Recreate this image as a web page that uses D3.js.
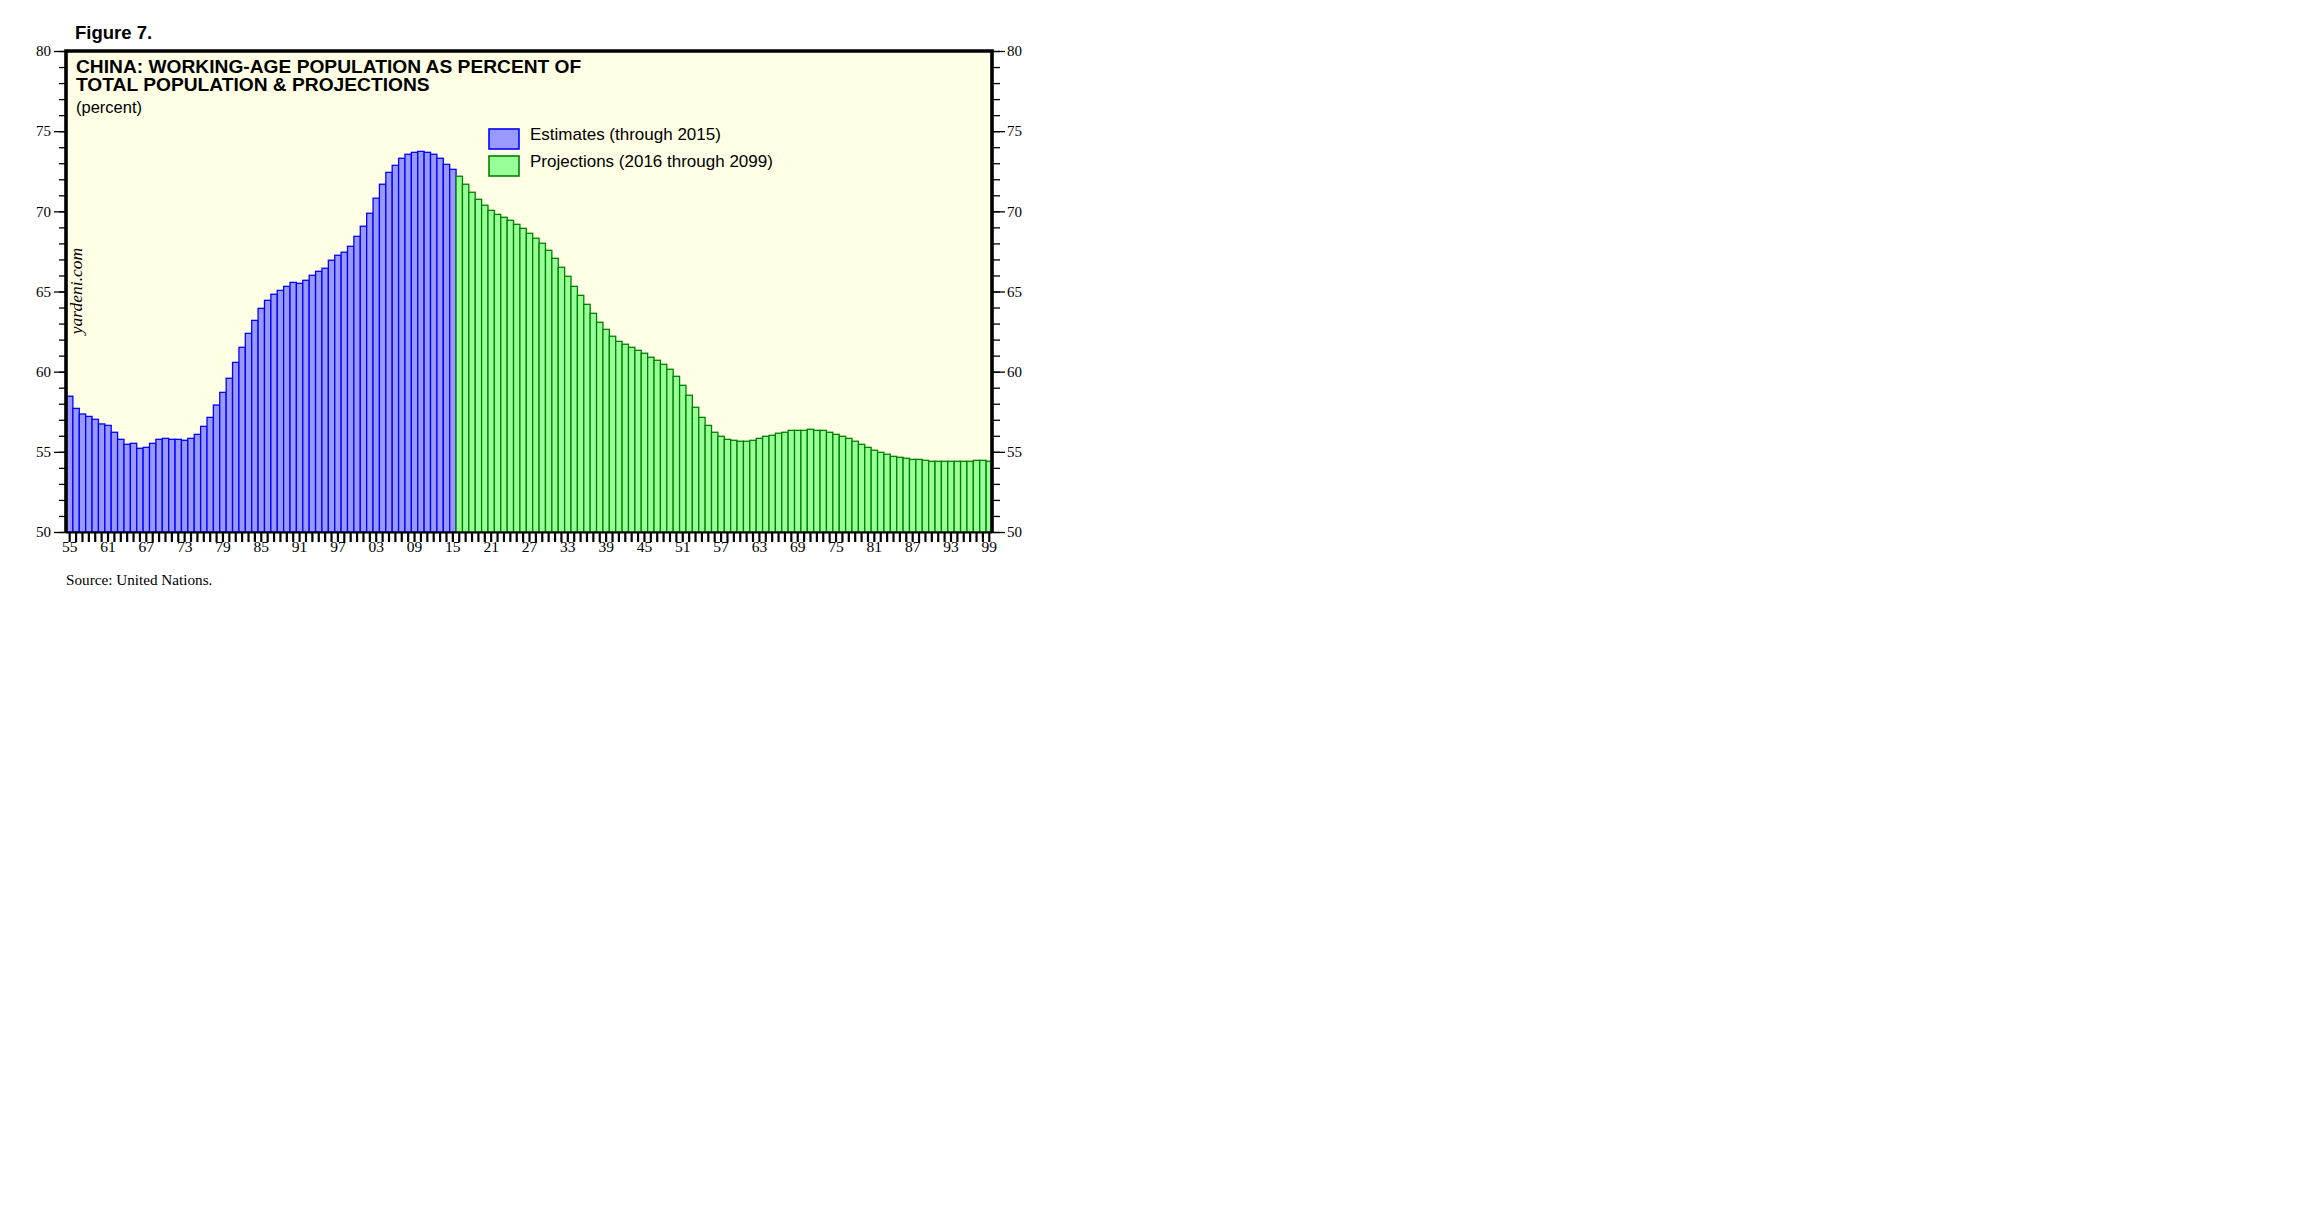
<!DOCTYPE html>
<html>
<head>
<meta charset="utf-8">
<script src="https://cdn.jsdelivr.net/npm/d3@7"></script>
<style>
  html, body { margin: 0; padding: 0; background: #ffffff; }
  svg { display: block; }
</style>
</head>
<body>
<svg id="chart" width="2304" height="1228"></svg>
<script>
// ---- Data ----
const estimateYears = d3.range(1955, 2016);
const estimateValues = [
  58.47, 57.71, 57.36, 57.21, 57.03, 56.74, 56.65, 56.22, 55.78, 55.47,
  55.53, 55.22, 55.28, 55.53, 55.78, 55.84, 55.78, 55.78, 55.72, 55.84,
  56.09, 56.59, 57.15, 57.92, 58.71, 59.59, 60.58, 61.52, 62.39, 63.20,
  63.95, 64.45, 64.83, 65.07, 65.32, 65.57, 65.51, 65.70, 66.01, 66.26,
  66.45, 66.95, 67.26, 67.45, 67.82, 68.44, 69.07, 69.88, 70.82, 71.69,
  72.43, 72.87, 73.31, 73.56, 73.68, 73.74, 73.68, 73.56, 73.31, 72.93,
  72.62
];
const projectionYears = d3.range(2016, 2100);
const projectionValues = [
  72.19, 71.69, 71.19, 70.75, 70.38, 70.06, 69.81, 69.63, 69.44, 69.19,
  68.94, 68.63, 68.32, 68.01, 67.57, 67.07, 66.51, 65.95, 65.32, 64.76,
  64.20, 63.64, 63.08, 62.64, 62.21, 61.89, 61.71, 61.52, 61.33, 61.15,
  60.90, 60.71, 60.46, 60.15, 59.71, 59.15, 58.53, 57.78, 57.15, 56.65,
  56.22, 55.97, 55.78, 55.72, 55.66, 55.66, 55.72, 55.84, 55.97, 56.03,
  56.16, 56.22, 56.34, 56.34, 56.34, 56.41, 56.34, 56.34, 56.22, 56.09,
  55.97, 55.84, 55.66, 55.47, 55.28, 55.10, 54.97, 54.85, 54.72, 54.66,
  54.60, 54.53, 54.53, 54.47, 54.41, 54.41, 54.41, 54.41, 54.41, 54.41,
  54.41, 54.47, 54.47, 54.41
];
const xTickYears = d3.range(1955, 2100, 6);
const xTickLabels = ["55","61","67","73","79","85","91","97","03","09","15","21","27",
                     "33","39","45","51","57","63","69","75","81","87","93","99"];
const yMajorTicks = [50, 55, 60, 65, 70, 75, 80];
const yMinorTicks = d3.range(50, 81, 1);
const seriesNames = ["Estimates (through 2015)", "Projections (2016 through 2099)"];

// ---- Layout ----
const L = 66, R = 992, T = 51, B = 532;
const allYears = estimateYears.concat(projectionYears);

const svg = d3.select("#chart");
const x = d3.scaleBand().domain(allYears).range([L + 0.5, R + 0.5]).paddingInner(0).paddingOuter(0);
const y = d3.scaleLinear().domain([50, 80]).range([B, T]);

const serif = "'Liberation Serif', 'Times New Roman', serif";
const sans = "'Liberation Sans', Arial, Helvetica, sans-serif";

// plot background
svg.append("rect").attr("x", L).attr("y", T).attr("width", R - L).attr("height", B - T)
  .attr("fill", "#ffffe6");

// bars
const estData = estimateYears.map((yr, i) => ({ yr, v: estimateValues[i] }));
const projData = projectionYears.map((yr, i) => ({ yr, v: projectionValues[i] }));

svg.append("g").selectAll("rect").data(estData).join("rect")
  .attr("x", d => x(d.yr)).attr("width", x.bandwidth())
  .attr("y", d => y(d.v)).attr("height", d => B - y(d.v))
  .attr("fill", "#9999ff").attr("stroke", "#0000ff").attr("stroke-width", 1.3);

svg.append("g").selectAll("rect").data(projData).join("rect")
  .attr("x", d => x(d.yr)).attr("width", x.bandwidth())
  .attr("y", d => y(d.v)).attr("height", d => B - y(d.v))
  .attr("fill", "#99ff99").attr("stroke", "#008000").attr("stroke-width", 1.3);

// left axis
const leftMinor = svg.append("g").attr("transform", `translate(${L},0)`)
  .call(d3.axisLeft(y).tickValues(yMinorTicks).tickSize(7).tickFormat(""));
const leftMajor = svg.append("g").attr("transform", `translate(${L},0)`)
  .call(d3.axisLeft(y).tickValues(yMajorTicks).tickSize(12).tickPadding(3).tickFormat(d3.format("d")));
const rightMinor = svg.append("g").attr("transform", `translate(${R},0)`)
  .call(d3.axisRight(y).tickValues(yMinorTicks).tickSize(8).tickFormat(""));
const rightMajor = svg.append("g").attr("transform", `translate(${R},0)`)
  .call(d3.axisRight(y).tickValues(yMajorTicks).tickSize(13).tickPadding(2).tickFormat(d3.format("d")));

[leftMinor, leftMajor, rightMinor, rightMajor].forEach(g => {
  g.select(".domain").remove();
  g.selectAll("line").attr("stroke", "#000").attr("stroke-width", 1.3);
  g.selectAll("text").attr("fill", "#000").style("font-family", serif).style("font-size", "15px");
});

// bottom axis
const labelMap = new Map(xTickYears.map((yr, i) => [yr, xTickLabels[i]]));
const bottom = svg.append("g").attr("transform", `translate(0,${B})`)
  .call(d3.axisBottom(x).tickValues(allYears).tickSize(10).tickPadding(-1)
    .tickFormat(d => labelMap.has(d) ? labelMap.get(d) : ""));
bottom.select(".domain").remove();
bottom.selectAll("line").attr("stroke", "#000").attr("stroke-width", 2.2);
bottom.selectAll("text").attr("fill", "#000").style("font-family", serif).style("font-size", "15.5px");

// baseline
svg.append("line").attr("x1", L).attr("x2", R).attr("y1", B + 0.5).attr("y2", B + 0.5)
  .attr("stroke", "#000").attr("stroke-width", 2);

// frame (top, left, right thick)
svg.append("path")
  .attr("d", `M${L},${B} L${L},${T} L${R},${T} L${R},${B}`)
  .attr("fill", "none").attr("stroke", "#000").attr("stroke-width", 3.6);

// titles
svg.append("text").attr("x", 75).attr("y", 39).text("Figure 7.")
  .style("font-family", sans).style("font-weight", "bold").style("font-size", "18.5px").attr("fill", "#000");
svg.append("text").attr("x", 76).attr("y", 72.5).text("CHINA: WORKING-AGE POPULATION AS PERCENT OF")
  .style("font-family", sans).style("font-weight", "bold").style("font-size", "19.2px").attr("fill", "#000");
svg.append("text").attr("x", 76).attr("y", 90.5).text("TOTAL POPULATION & PROJECTIONS")
  .style("font-family", sans).style("font-weight", "bold").style("font-size", "19.2px").attr("fill", "#000");
svg.append("text").attr("x", 76).attr("y", 112.5).text("(percent)")
  .style("font-family", sans).style("font-size", "16.5px").attr("fill", "#000");

// watermark
svg.append("text").attr("transform", "translate(82,291) rotate(-90)")
  .attr("text-anchor", "middle").text("yardeni.com")
  .style("font-family", serif).style("font-style", "italic").style("font-size", "17.5px").attr("fill", "#000");

// legend
const legend = svg.append("g");
const legendItems = [
  { name: seriesNames[0], fill: "#9999ff", stroke: "#0000ff", yTop: 129 },
  { name: seriesNames[1], fill: "#99ff99", stroke: "#008000", yTop: 156 }
];
legendItems.forEach(it => {
  legend.append("rect").attr("x", 489).attr("y", it.yTop).attr("width", 30).attr("height", 20)
    .attr("fill", it.fill).attr("stroke", it.stroke).attr("stroke-width", 1.6);
  legend.append("text").attr("x", 530).attr("y", it.yTop + 11).text(it.name)
    .style("font-family", sans).style("font-size", "17px").attr("fill", "#000");
});

// source
svg.append("text").attr("x", 66).attr("y", 585).text("Source: United Nations.")
  .style("font-family", serif).style("font-size", "15.2px").attr("fill", "#000");
</script>
</body>
</html>
